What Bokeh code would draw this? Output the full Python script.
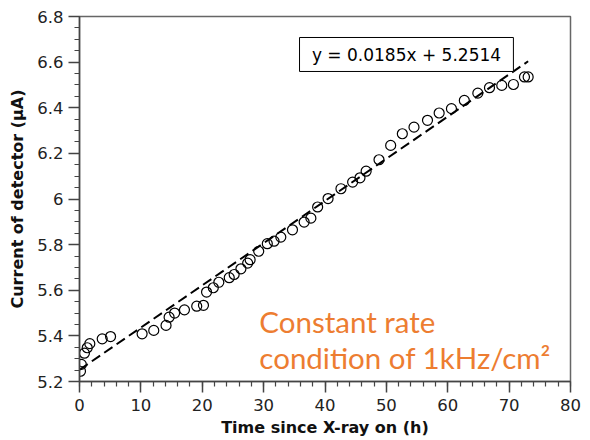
from bokeh.plotting import figure
from bokeh.models import FixedTicker, CustomJSTickFormatter, Label, BoxAnnotation
from bokeh.embed import file_html
from bokeh.resources import INLINE

# ---- data ----
time_h = [0.16, 0.3, 0.8, 1.26, 1.68, 3.7, 5.06, 10.2, 12.1, 14.1, 14.6, 15.5, 17.1,
          19.1, 20.2, 20.7, 21.8, 22.7, 24.4, 25.2, 26.3, 27.4, 27.8, 29.2, 30.6, 31.7,
          32.8, 34.7, 36.6, 37.7, 38.8, 40.5, 42.6, 44.5, 45.7, 46.7, 48.8, 50.7, 52.6,
          54.5, 56.7, 58.6, 60.6, 62.7, 64.9, 66.8, 68.8, 70.7, 72.5, 73.1]
current_uA = [5.245, 5.275, 5.324, 5.348, 5.366, 5.387, 5.397, 5.409, 5.424, 5.446, 5.482,
              5.50, 5.514, 5.53, 5.534, 5.592, 5.611, 5.635, 5.655, 5.669, 5.694, 5.719,
              5.734, 5.771, 5.804, 5.815, 5.833, 5.865, 5.899, 5.916, 5.965, 6.002, 6.045,
              6.074, 6.093, 6.122, 6.172, 6.235, 6.286, 6.315, 6.345, 6.377, 6.396, 6.432,
              6.464, 6.488, 6.498, 6.502, 6.535, 6.535]
fit_slope = 0.0185
fit_intercept = 5.2514
fit_text = "y = 0.0185x + 5.2514"
note_lines = ["Constant rate", "condition of 1kHz/cm\u00b2"]

x_ticks = [0, 10, 20, 30, 40, 50, 60, 70, 80]
x_minor = [v for v in range(0, 81, 2)]
y_ticks = [5.2, 5.4, 5.6, 5.8, 6.0, 6.2, 6.4, 6.6, 6.8]
y_minor = [round(5.2 + 0.05 * i, 2) for i in range(33)]

p = figure(width=590, height=440, x_range=(0, 80), y_range=(5.2, 6.8),
           output_backend="svg", toolbar_location=None,
           min_border_left=79, min_border_right=20, min_border_top=16, min_border_bottom=59)
p.grid.visible = False
p.outline_line_color = "#666666"
p.outline_line_width = 1.5
p.background_fill_color = "white"
p.border_fill_color = "white"

fmt = CustomJSTickFormatter(code="return String(Math.round(tick*10)/10);")
p.xaxis.ticker = FixedTicker(ticks=x_ticks, minor_ticks=x_minor)
p.yaxis.ticker = FixedTicker(ticks=y_ticks, minor_ticks=y_minor)
p.xaxis.formatter = fmt
p.yaxis.formatter = fmt

for ax in (p.xaxis[0], p.yaxis[0]):
    ax.axis_line_color = "#444444"
    ax.axis_line_width = 1.5
    ax.major_tick_line_color = "#444444"
    ax.minor_tick_line_color = "#444444"
    ax.major_tick_line_width = 1.5
    ax.minor_tick_line_width = 1.2
    ax.major_tick_in = 0
    ax.major_tick_out = 11
    ax.minor_tick_in = 0
    ax.minor_tick_out = 5
    ax.major_label_text_font = "DejaVu Sans"
    ax.major_label_text_font_size = "16.5px"
    ax.major_label_text_color = "#222222"
    ax.axis_label_text_font = "DejaVu Sans"
    ax.axis_label_text_font_size = "16px"
    ax.axis_label_text_font_style = "bold"
    ax.axis_label_text_color = "#111111"

p.xaxis.axis_label = "Time since X-ray on (h)"
p.yaxis.axis_label = "Current of detector (\u03bcA)"
p.xaxis.major_label_standoff = 6
p.xaxis.axis_label_standoff = 4
p.yaxis.major_label_standoff = 5
p.yaxis.axis_label_standoff = 7

# fit line
fit_x = [0.0, max(time_h)]
fit_y = [fit_slope * x + fit_intercept for x in fit_x]
p.line(fit_x, fit_y, line_color="black", line_width=2, line_dash="10 5")

# data
p.scatter(time_h, current_uA, marker="circle", size=10, fill_color=None,
          line_color="black", line_width=1.2)

# equation box
box = BoxAnnotation(left=35.85, right=70.7, bottom=6.559, top=6.708,
                    fill_color="white", fill_alpha=1.0, line_color="black",
                    line_width=1, line_alpha=1.0)
p.add_layout(box)
p.add_layout(Label(x=53.28, y=6.633, text=fit_text, text_align="center",
                   text_baseline="middle", text_font="DejaVu Sans",
                   text_font_size="17px", text_color="black"))

# orange note
p.add_layout(Label(x=29.3, y=5.464, text=note_lines[0], text_align="left",
                   text_baseline="alphabetic", text_font="Lato",
                   text_font_size="29.5px", text_color="#ED7D31"))
p.add_layout(Label(x=29.3, y=5.3065, text=note_lines[1], text_align="left",
                   text_baseline="alphabetic", text_font="Lato",
                   text_font_size="29.5px", text_color="#ED7D31"))

open("out.html", "w").write(file_html(p, INLINE))
